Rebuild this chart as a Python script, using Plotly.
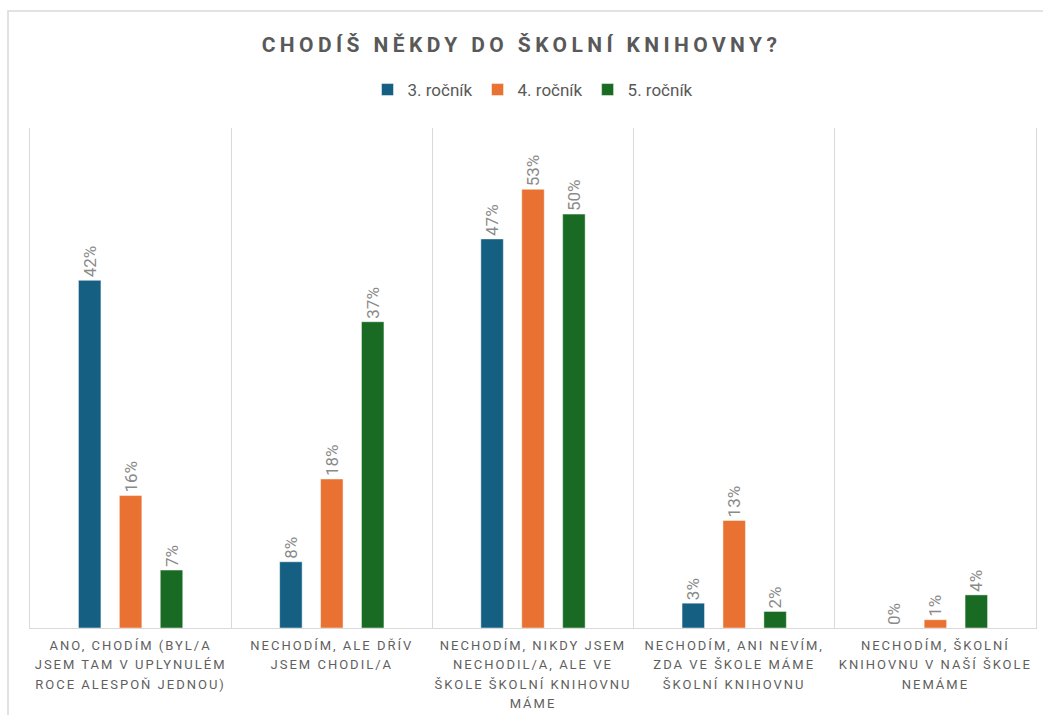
import plotly.graph_objects as go

categories = [
    "ANO, CHODÍM (BYL/A<br>JSEM TAM V UPLYNULÉM<br>ROCE ALESPOŇ JEDNOU)",
    "NECHODÍM, ALE DŘÍV<br>JSEM CHODIL/A",
    "NECHODÍM, NIKDY JSEM<br>NECHODIL/A, ALE VE<br>ŠKOLE ŠKOLNÍ KNIHOVNU<br>MÁME",
    "NECHODÍM, ANI NEVÍM,<br>ZDA VE ŠKOLE MÁME<br>ŠKOLNÍ KNIHOVNU",
    "NECHODÍM, ŠKOLNÍ<br>KNIHOVNU V NAŠÍ ŠKOLE<br>NEMÁME",
]
series_names = ["3. ročník", "4. ročník", "5. ročník"]
values_3 = [42, 8, 47, 3, 0]
values_4 = [16, 18, 53, 13, 1]
values_5 = [7, 37, 50, 2, 4]
colors = ["#156082", "#E97132", "#196B24"]

fig = go.Figure()
for name, vals, col in zip(series_names, [values_3, values_4, values_5], colors):
    fig.add_trace(go.Bar(
        x=categories, y=vals, name=name,
        marker=dict(color=col, line=dict(color="rgba(255,255,255,0.6)", width=0.8)),
        text=[f"{v}%" for v in vals],
        textposition="outside", textangle=-90,
        textfont=dict(family="Roboto", size=17, color="#8a8a8a"),
        constraintext="none", cliponaxis=False,
    ))

fig.update_layout(
    width=1043, height=715,
    paper_bgcolor="white", plot_bgcolor="white",
    margin=dict(l=30, r=7, t=128, b=87, autoexpand=False),
    barmode="group", bargap=0.39, bargroupgap=0.45,
    title=dict(text="<b>CHODÍŠ NĚKDY DO ŠKOLNÍ KNIHOVNY?</b>",
               x=0.5, xanchor="center", y=1 - 45 / 715, yanchor="middle",
               font=dict(family="Roboto", size=21, color="#595959")),
    legend=dict(orientation="h", x=0.5, xanchor="center", y=1.076, yanchor="middle",
                font=dict(family="Roboto", size=17, color="#595959"),
                itemwidth=30, traceorder="normal"),
    xaxis=dict(type="category", automargin=False,
               tickson="boundaries", ticks="", showgrid=True, gridcolor="#d9d9d9", gridwidth=1,
               showline=True, linecolor="#d9d9d9", linewidth=1, ticklabelstandoff=5,
               tickfont=dict(family="Roboto", size=13, color="#5f5f5f")),
    yaxis=dict(range=[0, 60.4], showgrid=False, showticklabels=False, zeroline=False,
               showline=True, mirror=True, linecolor="#d9d9d9", linewidth=1, automargin=False),
    showlegend=True,
)

fig.add_shape(type="rect", xref="paper", yref="paper",
              x0=(8 - 30) / 1006, x1=1.05, y0=-0.3, y1=(628 - 11) / 500,
              line=dict(color="#d9d9d9", width=1.5), fillcolor="rgba(0,0,0,0)", layer="below")

post = """
document.body.style.margin='0';
document.body.style.padding='0';
var gd = document.getElementById('{plot_id}');
function sp(){
  gd.querySelectorAll('.xtick text').forEach(function(t){
    t.style.letterSpacing='2.0px';
    if (!t.getAttribute('data-ls')) {
      t.setAttribute('data-ls','1');
      t.querySelectorAll('tspan.line').forEach(function(s){
        var d = s.getAttribute('dy');
        if (d && d.indexOf('em') > 0) {
          var v = parseFloat(d);
          if (v) s.setAttribute('dy', (v * 1.5 / 1.3) + 'em');
        }
      });
    }
  });
  gd.querySelectorAll('.gtitle').forEach(function(t){ t.style.letterSpacing='4.4px'; });
}
sp();
gd.on('plotly_afterplot', sp);
"""

fig.write_html("out.html", post_script=post, config={"displayModeBar": False})
